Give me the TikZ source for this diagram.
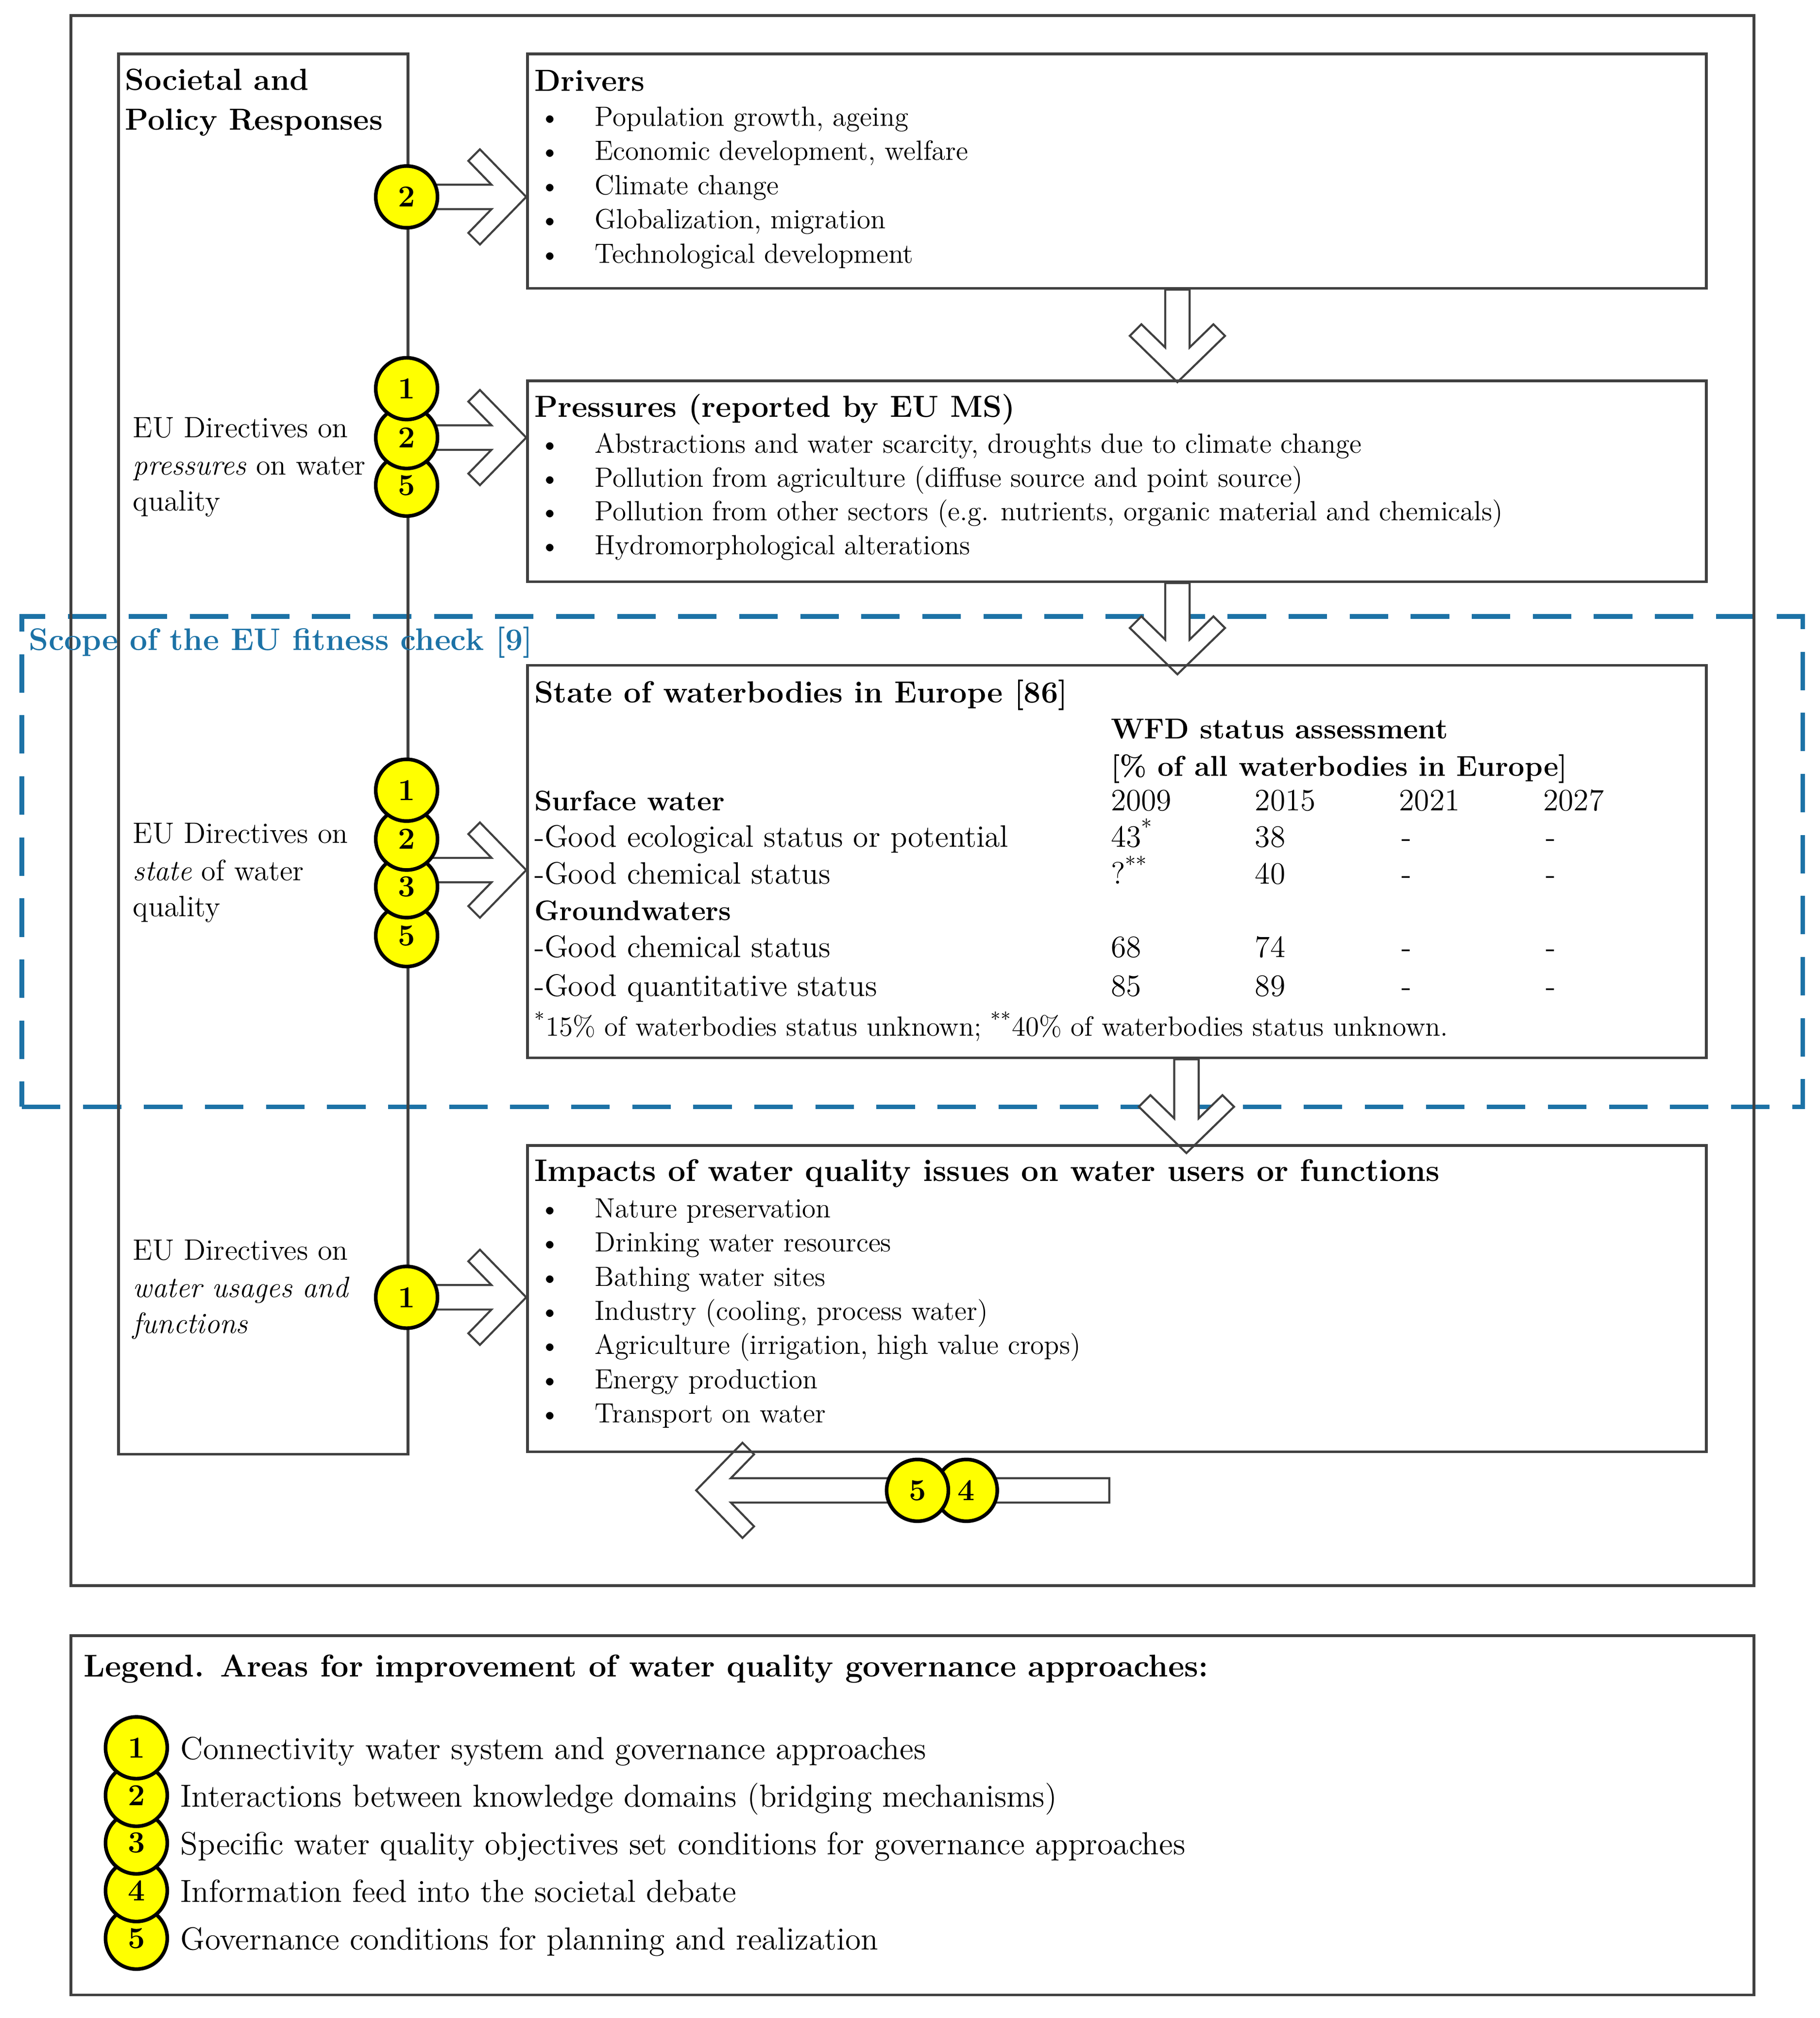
\documentclass[tikz,border=0pt]{standalone}
\usepackage{fontspec}
\usepackage{tikz}
\usetikzlibrary{positioning, calc, fit, backgrounds}
\definecolor{myyellow}{RGB}{255, 255, 0}
\definecolor{myscope}{RGB}{28, 114, 166}
\definecolor{myframe}{RGB}{64, 64, 64}

% open block arrow from tail #1 to tip #2 (both coordinates)
\newcommand{\hollowarrow}[2]{%
  \coordinate (ha-j) at ($(#2)!0.54cm!(#1)$);
  \coordinate (ha-o) at ($(#2)!0.90cm!(#1)$);
  \coordinate (ha-t) at ($(#2)!0.72cm!(#1)$);
  \draw[blockarrow] ($(#1)!0.19cm!90:(#2)$) -- ($(ha-j)!0.19cm!90:(#2)$)
    -- ($(ha-o)!0.56cm!90:(#2)$) -- ($(ha-t)!0.74cm!90:(#2)$) -- (#2)
    -- ($(ha-t)!0.74cm!-90:(#2)$) -- ($(ha-o)!0.56cm!-90:(#2)$)
    -- ($(ha-j)!0.19cm!-90:(#2)$) -- ($(#1)!0.19cm!-90:(#2)$) -- cycle;}

\begin{document}
\begin{tikzpicture}[
        x=0.02cm, y=-0.02cm,
        box/.style={draw=myframe, line width=1.2pt, inner sep=0pt},
        scopebox/.style={draw=myscope, line width=2pt, dash pattern=on 17pt off 10pt, inner sep=0pt},
        head/.style={font=\fontsize{13.5}{16}\selectfont\bfseries, inner sep=0pt, anchor=base west},
        item/.style={font=\fontsize{12.3}{15}\selectfont, inner sep=0pt, anchor=base west},
        cell/.style={font=\fontsize{13.7}{16}\selectfont, inner sep=0pt, anchor=base west},
        side/.style={font=\fontsize{13}{16}\selectfont, inner sep=0pt, anchor=base west},
        num/.style={circle, draw=black, line width=1.6pt, fill=myyellow, minimum size=0.96cm,
            inner sep=0pt, font=\fontsize{13.5}{13.5}\selectfont\bfseries},
        blockarrow/.style={draw=myframe, line width=0.9pt, fill=white, line join=miter}
    ]
    \useasboundingbox (0,0) rectangle (1414,1568);

    % Frames
    \node[box, fit={(55,12) (1363,1232)}] (frame) {};
    \node[box, fit={(92,42) (317,1130)}] (resp) {};
    \node[box, fit={(410,42) (1326,224)}] (drivers) {};
    \node[box, fit={(410,296) (1326,452)}] (pressures) {};
    \node[box, fit={(410,517) (1326,822)}] (state) {};
    \node[box, fit={(410,890) (1326,1128)}] (impacts) {};
    \node[box, fit={(55,1271) (1363,1550)}] (legend) {};

    % Numbered circles
    \node[num] (drv2) at (316,153) {2};
    \node[num] (prs5) at (316,377) {5};
    \node[num] (prs2) at (316,340) {2};
    \node[num] (prs1) at (316,302) {1};
    \node[num] (sta5) at (316,727) {5};
    \node[num] (sta3) at (316,689) {3};
    \node[num] (sta2) at (316,652) {2};
    \node[num] (sta1) at (316,614) {1};
    \node[num] (imp1) at (316,1008) {1};
    \node[num] (fb4) at (751,1158) {4};
    \node[num] (fb5) at (713,1158) {5};

    % Scope and arrows
    \begin{scope}[on background layer]
        \node[scopebox, fit={(17,479) (1401,860)}] (fitness) {};

        \coordinate (dr-s) at (drv2.center);
        \coordinate (dr-e) at (drv2 -| drivers.west);
        \hollowarrow{dr-s}{dr-e}
        \coordinate (pr-s) at (prs2.center);
        \coordinate (pr-e) at (prs2 -| pressures.west);
        \hollowarrow{pr-s}{pr-e}
        \coordinate (st-s) at ($(sta2)!0.65!(sta3)$);
        \coordinate (st-e) at (st-s -| state.west);
        \hollowarrow{st-s}{st-e}
        \coordinate (im-s) at (imp1.center);
        \coordinate (im-e) at (imp1 -| impacts.west);
        \hollowarrow{im-s}{im-e}

        \coordinate (dp-s) at ([xshift=0.94cm]drivers.south);
        \coordinate (dp-e) at ([yshift=-0.04cm]dp-s |- pressures.north);
        \hollowarrow{dp-s}{dp-e}
        \coordinate (ps-s) at ([xshift=0.94cm]pressures.south);
        \coordinate (ps-e) at ([yshift=-0.16cm]ps-s |- state.north);
        \hollowarrow{ps-s}{ps-e}
        \coordinate (si-s) at ([xshift=1.08cm]state.south);
        \coordinate (si-e) at ([yshift=-0.14cm]si-s |- impacts.north);
        \hollowarrow{si-s}{si-e}

        \coordinate (fb-s) at (862,1158);
        \coordinate (fb-e) at (541,1158);
        \hollowarrow{fb-s}{fb-e}
    \end{scope}

    \node[head, text=myscope, font=\fontsize{13.8}{16}\selectfont\bfseries] (fitness-title)
        at ([shift={(7,28)}]fitness.north west) {Scope of the EU fitness check [9]};

    % Societal and policy responses
    \node[head] (resp-t1) at ([shift={(6,29)}]resp.north west) {Societal and};
    \node[head] (resp-t2) at ([shift={(6,60)}]resp.north west) {Policy Responses};
    \node[side] (sp1) at (103,340) {EU Directives on};
    \node[side] (sp2) at (103,369) {\textit{pressures} on water};
    \node[side] (sp3) at (103,397) {quality};
    \node[side] (ss1) at (103,655) {EU Directives on};
    \node[side] (ss2) at (103,684) {\textit{state} of water};
    \node[side] (ss3) at (103,712) {quality};
    \node[side] (si1) at (103,979) {EU Directives on};
    \node[side] (si2) at (103,1008) {\textit{water usages and}};
    \node[side] (si3) at (103,1036) {\textit{functions}};

    % Drivers
    \node[head] (drivers-t) at ([shift={(6,30)}]drivers.north west) {Drivers};
    \foreach \txt [count=\i] in {{Population growth, ageing}, {Economic development, welfare},
            Climate change, {Globalization, migration}, Technological development} {
        \node[item] (drb\i) at ([shift={(10,{57+26.6*(\i-1)})}]drivers.north west) {\textbullet};
        \node[item] (dri\i) at ([shift={(53,{57+26.6*(\i-1)})}]drivers.north west) {\txt};
    }

    % Pressures
    \node[head] (pressures-t) at ([shift={(6,29)}]pressures.north west) {Pressures (reported by EU MS)};
    \foreach \txt [count=\i] in {{Abstractions and water scarcity, droughts due to climate change},
            {Pollution from agriculture (diffuse source and point source)},
            {Pollution from other sectors (e.g. nutrients, organic material and chemicals)},
            Hydromorphological alterations} {
        \node[item] (prb\i) at ([shift={(10,{57+26.3*(\i-1)})}]pressures.north west) {\textbullet};
        \node[item] (pri\i) at ([shift={(53,{57+26.3*(\i-1)})}]pressures.north west) {\txt};
    }

    % State of waterbodies
    \node[head] (state-t) at ([shift={(6,30)}]state.north west) {State of waterbodies in Europe [86]};
    \node[head, font=\fontsize{12.7}{15}\selectfont\bfseries] (wfd1) at ([shift={(454,58)}]state.north west) {WFD status assessment};
    \node[head, font=\fontsize{12.7}{15}\selectfont\bfseries] (wfd2) at ([shift={(454,87)}]state.north west) {[\% of all waterbodies in Europe]};
    \node[head, font=\fontsize{12.5}{15}\selectfont\bfseries] (surf) at ([shift={(6,114)}]state.north west) {Surface water};
    \node[head, font=\fontsize{12.5}{15}\selectfont\bfseries] (ground) at ([shift={(6,199)}]state.north west) {Groundwaters};
    \foreach \yr [count=\i] in {2009, 2015, 2021, 2027}
        \node[cell] (yr\i) at ([shift={({454+112*(\i-1)},114)}]state.north west) {\yr};
    \foreach \lab/\va/\vb/\yy [count=\i] in {
            {-Good ecological status or potential}/{43\textsuperscript{*}}/38/142,
            {-Good chemical status}/{?\textsuperscript{**}}/40/171,
            {-Good chemical status}/68/74/228,
            {-Good quantitative status}/85/89/258} {
        \node[cell] (row\i) at ([shift={(6,\yy)}]state.north west) {\lab};
        \node[cell] (row\i-a) at ([shift={(454,\yy)}]state.north west) {\va};
        \node[cell] (row\i-b) at ([shift={(566,\yy)}]state.north west) {\vb};
        \node[cell] (row\i-c) at ([shift={(680,\yy)}]state.north west) {-};
        \node[cell] (row\i-d) at ([shift={(792,\yy)}]state.north west) {-};
    }
    \node[item] (foot) at ([shift={(6,289)}]state.north west)
        {\textsuperscript{*}15\% of waterbodies status unknown; \textsuperscript{**}40\% of waterbodies status unknown.};

    % Impacts
    \node[head, font=\fontsize{13.8}{16}\selectfont\bfseries] (impacts-t) at ([shift={(6,29)}]impacts.north west) {Impacts of water quality issues on water users or functions};
    \foreach \txt [count=\i] in {Nature preservation, Drinking water resources, Bathing water sites,
            {Industry (cooling, process water)}, {Agriculture (irrigation, high value crops)},
            Energy production, Transport on water} {
        \node[item] (imb\i) at ([shift={(10,{57+26.6*(\i-1)})}]impacts.north west) {\textbullet};
        \node[item] (imi\i) at ([shift={(53,{57+26.6*(\i-1)})}]impacts.north west) {\txt};
    }

    % Legend
    \node[head, font=\fontsize{13.9}{16}\selectfont\bfseries] (legend-t) at ([shift={(11,33)}]legend.north west) {Legend. Areas for improvement of water quality governance approaches:};
    \foreach \n/\txt in {5/Governance conditions for planning and realization,
            4/Information feed into the societal debate,
            3/Specific water quality objectives set conditions for governance approaches,
            2/Interactions between knowledge domains (bridging mechanisms),
            1/Connectivity water system and governance approaches} {
        \node[num] (leg\n) at (106,{1358+37*(\n-1)}) {\n};
        \node[item, font=\fontsize{14.1}{16}\selectfont] (legt\n) at ([shift={(34,9)}]leg\n.center) {\txt};
    }
\end{tikzpicture}
\end{document}
